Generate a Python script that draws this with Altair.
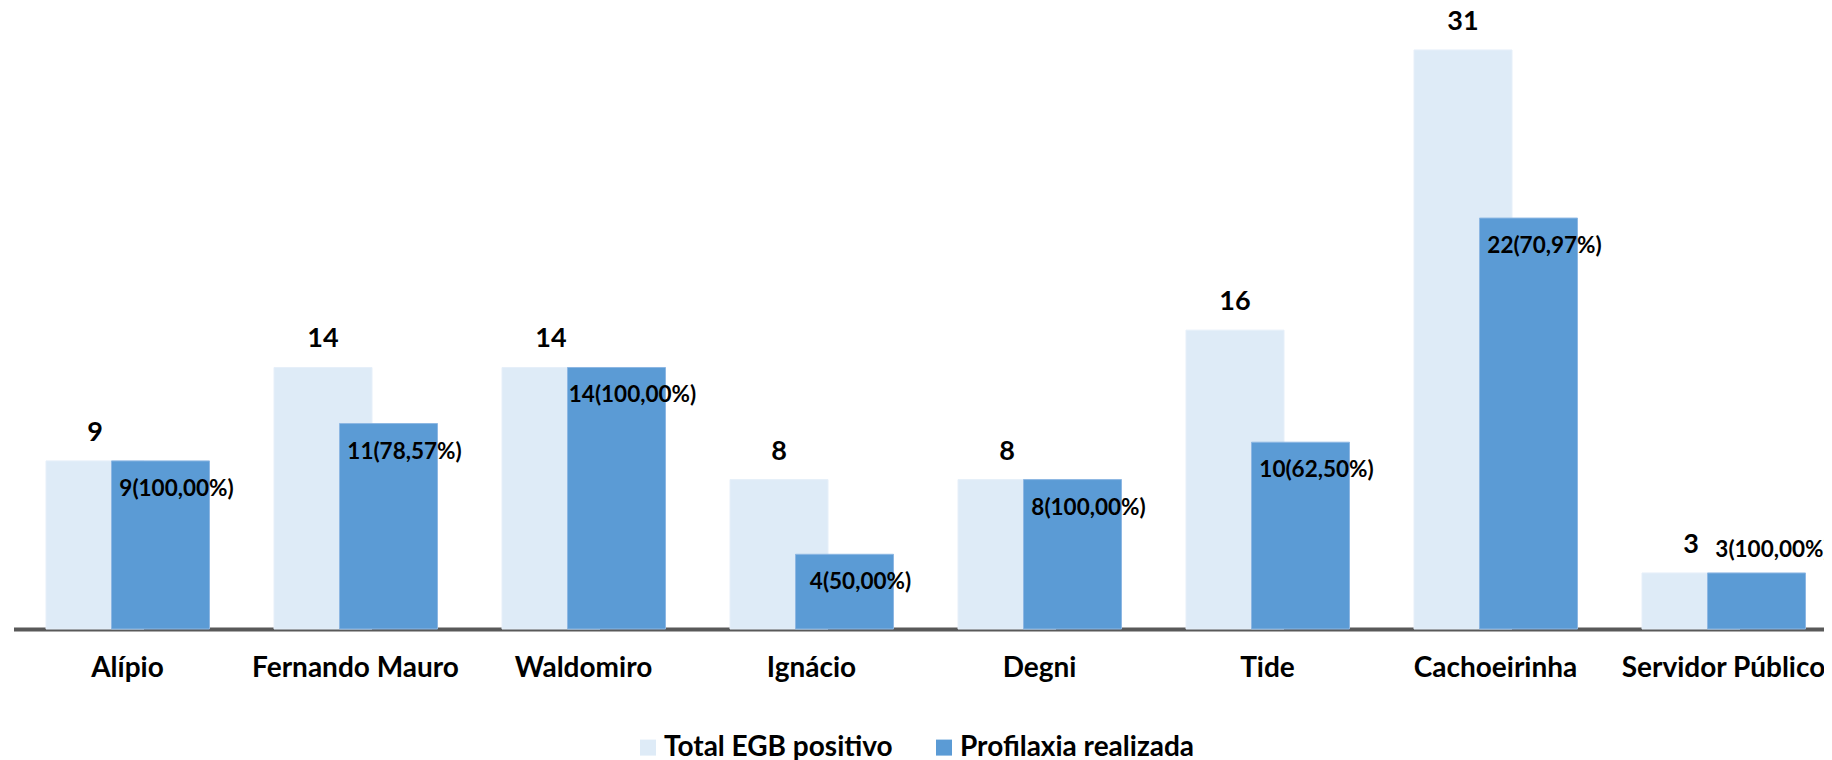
import altair as alt
import pandas as pd

categories = ["Alípio", "Fernando Mauro", "Waldomiro", "Ignácio", "Degni",
              "Tide", "Cachoeirinha", "Servidor Público"]
total_egb = [9, 14, 14, 8, 8, 16, 31, 3]
profilaxia = [9, 11, 14, 4, 8, 10, 22, 3]
pct_text = ["100,00%", "78,57%", "100,00%", "50,00%", "100,00%", "62,50%", "70,97%", "100,00%"]
series_names = ["Total EGB positivo", "Profilaxia realizada"]
series_colors = ["#DEEBF7", "#5B9BD5"]

rows = []
for c, t, p, pc in zip(categories, total_egb, profilaxia, pct_text):
    rows.append({"category": c, "series": series_names[0], "value": t, "label": str(t)})
    rows.append({"category": c, "series": series_names[1], "value": p, "label": f"{p}({pc})"})
df = pd.DataFrame(rows)

FONT = "Lato"

x_enc = alt.X(
    "category:N", sort=categories, title=None,
    scale=alt.Scale(range=[5.5, 1829.5], paddingInner=0, paddingOuter=0),
    axis=alt.Axis(labelAngle=0, labelFont=FONT, labelFontSize=28, labelFontWeight="bold",
                  labelColor="#000000", labelPadding=25, ticks=False, tickSize=0, labelLimit=0,
                  domainColor="#595959", domainWidth=4, grid=False, labelOverlap=False),
)
y_enc = alt.Y("value:Q", scale=alt.Scale(domain=[0, 33]), axis=None)
color_enc = alt.Color(
    "series:N",
    scale=alt.Scale(domain=series_names, range=series_colors),
    legend=alt.Legend(title=None, orient="none", legendX=626, legendY=721, direction="horizontal",
                      symbolType="square", symbolSize=256, symbolStrokeWidth=0, labelLimit=0,
                      labelFont=FONT, labelFontSize=28, labelFontWeight="bold", labelColor="#000000",
                      labelOffset=2, columnPadding=37, padding=0),
)

base = alt.Chart(df).encode(x=x_enc, y=y_enc)

light = base.transform_filter(alt.datum.series == series_names[0])
dark = base.transform_filter(alt.datum.series == series_names[1])

light_bars = light.mark_bar(width=98, xOffset=-32.5, stroke="#E6EFF9", strokeWidth=1).encode(color=color_enc)
dark_bars = dark.mark_bar(width=98, xOffset=33, stroke="#8DB7E3", strokeWidth=1).encode(color=color_enc)

light_text = light.mark_text(xOffset=-32.5, dy=-20, baseline="alphabetic", align="center",
                             font=FONT, fontSize=27, fontWeight="bold", color="#000000").encode(text="label:N")
dark_text_in = dark.transform_filter(alt.datum.value > 3).mark_text(
    xOffset=49, dy=35, baseline="alphabetic", align="center",
    font=FONT, fontSize=22.5, fontWeight="bold", color="#000000").encode(text="label:N")
dark_text_out = dark.transform_filter(alt.datum.value <= 3).mark_text(
    xOffset=49, dy=-16, baseline="alphabetic", align="center",
    font=FONT, fontSize=22.5, fontWeight="bold", color="#000000").encode(text="label:N")

chart = alt.layer(light_bars, dark_bars, light_text, dark_text_in, dark_text_out).properties(
    width=1816, height=616.4,
    autosize=alt.AutoSizeParams(type="none"),
    padding={"left": 0, "top": 4.6, "right": 0, "bottom": 131},
    background="#FFFFFF",
).configure(font=FONT).configure_view(stroke=None)

chart.save("out.html", embed_options={"renderer": "svg", "actions": False})
